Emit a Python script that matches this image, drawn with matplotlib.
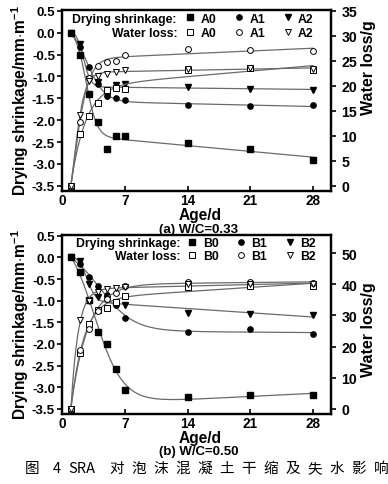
import numpy as np
import matplotlib
matplotlib.use('Agg')
import matplotlib.pyplot as plt
from matplotlib.lines import Line2D

plt.rcParams['font.family'] = ['Liberation Sans', 'DejaVu Sans']
plt.rcParams['font.weight'] = 'bold'
plt.rcParams['axes.unicode_minus'] = False
plt.rcParams['mathtext.fontset'] = 'custom'
plt.rcParams['mathtext.rm'] = 'Liberation Sans:bold'
plt.rcParams['mathtext.default'] = 'rm'

days = [1, 2, 3, 4, 5, 6, 7, 14, 21, 28]

# (a) W/C = 0.33
a0_shrink = [0.0, -0.52, -1.40, -2.05, -2.65, -2.37, -2.36, -2.52, -2.65, -2.92]
a1_shrink = [0.0, -0.32, -0.78, -1.18, -1.45, -1.49, -1.53, -1.66, -1.68, -1.66]
a2_shrink = [0.0, -0.25, -1.05, -1.13, -1.45, -1.19, -1.17, -1.23, -1.28, -1.32]
a0_water = [0.0, 10.4, 14.0, 16.5, 19.2, 19.5, 19.3, 23.1, 23.6, 23.2]
a1_water = [0.0, 12.8, 21.5, 24.0, 24.7, 24.9, 26.2, 27.4, 27.2, 27.0]
a2_water = [0.0, 14.2, 21.0, 22.0, 22.4, 22.7, 23.2, 23.3, 23.5, 23.4]

# (b) W/C = 0.50
b0_shrink = [0.0, -0.34, -0.98, -1.73, -2.01, -2.57, -3.07, -3.22, -3.18, -3.18]
b1_shrink = [0.0, -0.16, -0.44, -0.67, -0.86, -1.10, -1.41, -1.72, -1.65, -1.78]
b2_shrink = [0.0, -0.09, -0.62, -0.92, -0.95, -1.09, -1.11, -1.28, -1.30, -1.32]
b0_water = [0.0, 18.0, 27.3, 31.8, 32.5, 34.3, 36.3, 39.3, 39.6, 39.4]
b1_water = [0.0, 18.9, 25.8, 31.5, 35.2, 37.3, 39.4, 40.8, 40.8, 40.5]
b2_water = [0.0, 28.7, 34.5, 37.5, 38.4, 38.9, 39.2, 40.0, 40.2, 40.0]

W, H = 388, 485
LEFT, RIGHT = 62, 331
CURVE = '#6a6a6a'


def fit_curve(x, y, xs):
    # Boltzmann + linear trend, least squares on a grid of (t0, w)
    x = np.asarray(x, float)
    y = np.asarray(y, float)
    best = None
    for t0 in np.arange(-4, 8, 0.1):
        for w in np.arange(0.4, 5, 0.1):
            s = 1 / (1 + np.exp((x - t0) / w))
            A = np.column_stack([np.ones_like(x), x, s])
            c = np.linalg.lstsq(A, y, rcond=None)[0]
            err = np.sum((A @ c - y) ** 2)
            if best is None or err < best[0]:
                best = (err, t0, w, c)
    _, t0, w, c = best
    s = 1 / (1 + np.exp((xs - t0) / w))
    return c[0] + c[1] * xs + c[2] * s


def panel(top, bottom, shrink, water, names, kright, rticks, leg):
    ax = fig.add_axes([LEFT / W, 1 - bottom / H, (RIGHT - LEFT) / W, (bottom - top) / H])
    ax2 = ax.twinx()
    xs = np.linspace(1, 28, 300)
    fmarks = ['s', 'o', 'v']
    for ys, m, n in zip(shrink, fmarks, names):
        ax.plot(xs, fit_curve(days, ys, xs), color=CURVE, lw=0.9, zorder=2)
        ax.plot(days, ys, ls='none', marker=m, ms=3.8, color='black', zorder=3, label=n)
    for ys, m, n in zip(water, fmarks, names):
        ax2.plot(xs, fit_curve(days, ys, xs), color=CURVE, lw=0.9, zorder=2)
        ax2.plot(days, ys, ls='none', marker=m, ms=4.2, mfc='white', mec='black',
                 mew=0.7, zorder=3, label=n)
    ylim = (-3.62, 0.52)
    ax.set_ylim(*ylim)
    ax2.set_ylim((ylim[0] + 3.5) * kright, (ylim[1] + 3.5) * kright)
    ax.set_xlim(0, 30)
    ax.set_xticks([0, 7, 14, 21, 28])
    ax.set_yticks(np.arange(-3.5, 0.51, 0.5))
    ax.set_yticklabels([f'{v:.1f}' for v in np.arange(-3.5, 0.51, 0.5)])
    ax2.set_yticks(rticks)
    ax.tick_params(axis='y', direction='out', length=3.5, width=1.2, labelsize=9.6, pad=1.5)
    ax.tick_params(axis='x', direction='in', length=3.5, width=1.2, labelsize=9.8, pad=1.5)
    ax2.tick_params(axis='y', direction='out', length=3.5, width=1.2, labelsize=10.2, pad=4)
    for a in (ax, ax2):
        for sp in a.spines.values():
            sp.set_linewidth(1.6)

    # legend
    hs = []
    for m, n in zip(fmarks, names):
        hs.append(Line2D([], [], ls='none', marker=m, ms=3.8, color='black'))
        hs.append(Line2D([], [], ls='none', marker=m, ms=4.2, mfc='white', mec='black', mew=0.7))
    labels = [n for n in names for _ in range(2)]
    x0, y0, lsp = leg
    ax2.legend(hs, labels, ncol=3, loc='upper left', bbox_to_anchor=(x0, y0),
               frameon=False, fontsize=8.8, handlelength=0.8, handletextpad=0.45,
               columnspacing=1.45, labelspacing=lsp, borderpad=0, borderaxespad=0)
    return ax, ax2


fig = plt.figure(figsize=(W / 100, H / 100), dpi=100)

panel(11, 192, [a0_shrink, a1_shrink, a2_shrink], [a0_water, a1_water, a2_water],
      ['A0', 'A1', 'A2'], 8.75, range(0, 36, 5), (0.458, 0.985, 0.22))
panel(236, 415, [b0_shrink, b1_shrink, b2_shrink], [b0_water, b1_water, b2_water],
      ['B0', 'B1', 'B2'], 13.9, range(0, 51, 10), (0.466, 0.99, 0.12))


def ftext(x, y, s, **kw):
    fig.text(x / W, 1 - y / H, s, ha=kw.pop('ha', 'center'), va=kw.pop('va', 'center'), **kw)


ylab = r'Drying shrinkage/mm$\cdot$m$^{-1}$'
ftext(20, 101, ylab, rotation=90, fontsize=11.2)
ftext(20, 325, ylab, rotation=90, fontsize=11.2)
ftext(368, 68, 'Water loss/g', rotation=90, fontsize=11.5)
ftext(368, 330, 'Water loss/g', rotation=90, fontsize=11.5)

ftext(176, 20, 'Drying shrinkage:', ha='right', fontsize=8.8)
ftext(178, 34, 'Water loss:', ha='right', fontsize=8.8)
ftext(181, 244, 'Drying shrinkage:', ha='right', fontsize=8.8)
ftext(181, 257, 'Water loss:', ha='right', fontsize=8.8)

ftext(200, 215.5, 'Age/d', fontsize=11.2)
ftext(200, 438.5, 'Age/d', fontsize=11.2)
ftext(199, 230, '(a) W/C=0.33', fontsize=9.5)
ftext(199, 452.5, '(b) W/C=0.50', fontsize=9.5)

# caption, spaced characters
cap_font = ['Noto Sans CJK SC', 'DejaVu Sans']
ftext(32, 469, '图', family=cap_font, fontweight='normal', fontsize=10.5)
ftext(57, 469, '4', family=cap_font, fontweight='normal', fontsize=10.5)
ftext(82, 469, 'SRA', family=cap_font, fontweight='normal', fontsize=10.5)
for i, ch in enumerate('对泡沫混凝土干缩及失水影响'):
    ftext(117 + i * 22, 469, ch, family=cap_font, fontweight='normal', fontsize=10.5)

fig.savefig('out.png', dpi=100)
